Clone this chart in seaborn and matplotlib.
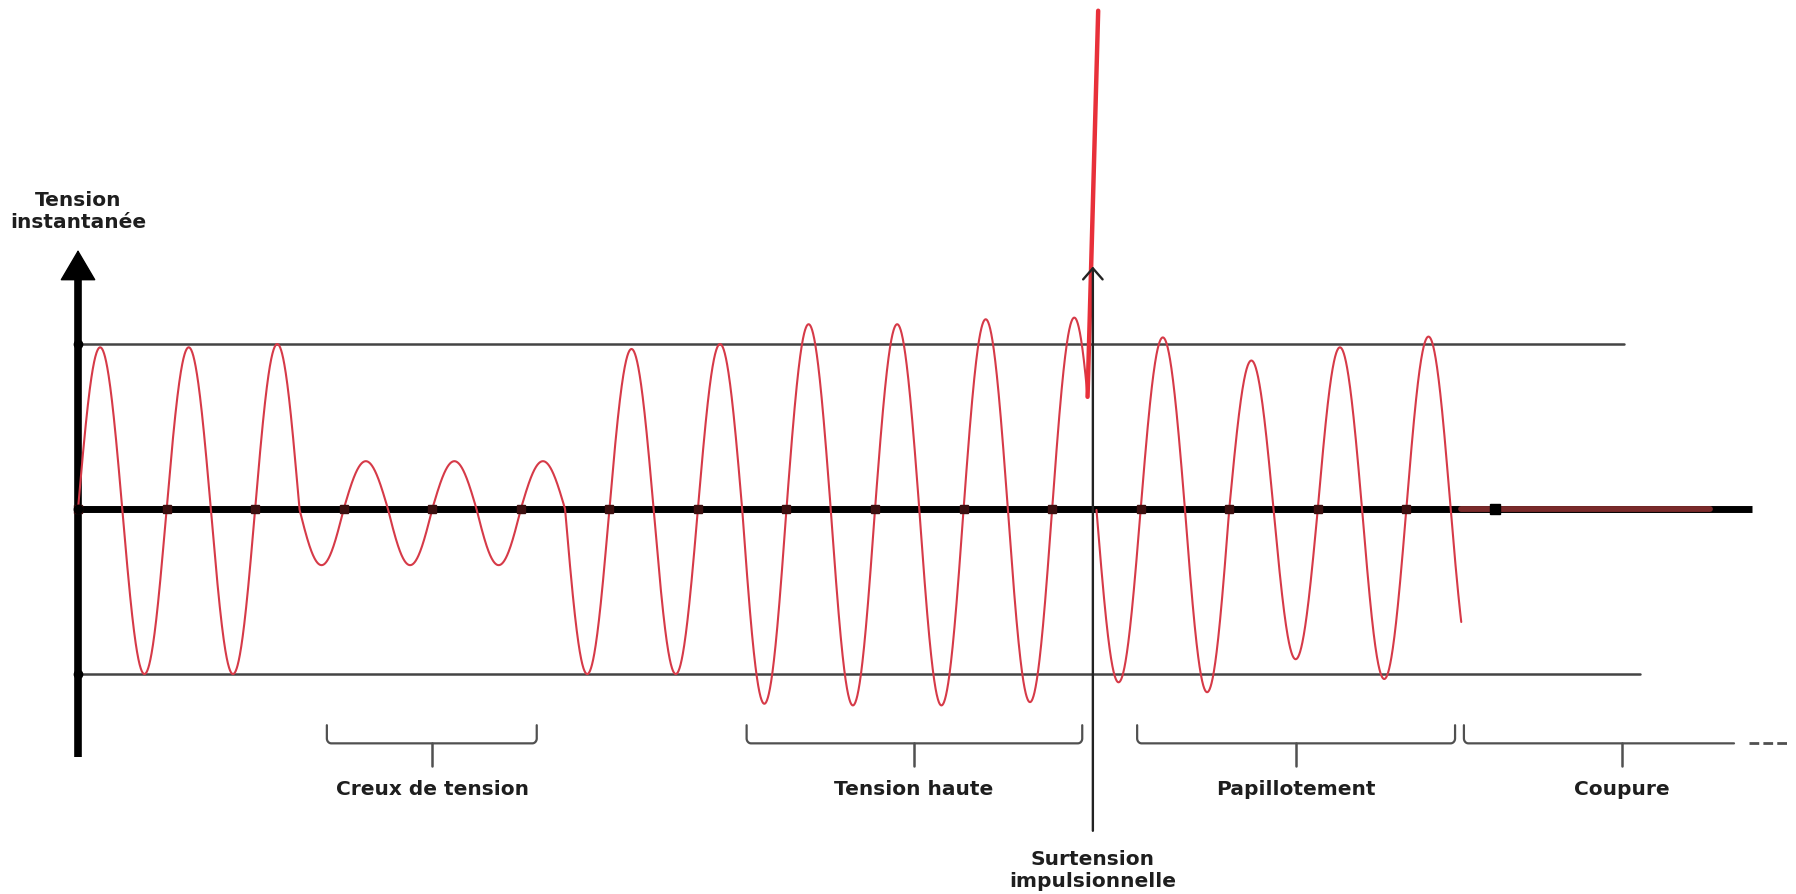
import numpy as np
import pandas as pd
import matplotlib
matplotlib.use("Agg")
import matplotlib.pyplot as plt
import seaborn as sns

# ---------------- data ----------------
# one entry per period of the signal (period index 0..15)
peak_amp = [0.98, 0.98, 1.00, 0.29, 0.29, 0.29, 0.97, 1.00,
            1.12, 1.12, 1.15, 1.16, 1.04, 0.90, 0.98, 1.045]
trough_amp = [1.00, 1.00, 0.34, 0.34, 0.34, 1.00, 1.00, 1.18,
              1.19, 1.19, 1.17, 1.05, 1.11, 0.91, 1.03, 1.00]
wave_end = 15.62            # signal is cut here (coupure)
impulse_gap = [11.40, 11.50]  # part of the wave replaced by the spike
spike_t = [11.40, 11.52]
spike_v = [0.68, 3.02]
coupure_t = [15.62, 18.43]
coupure_v = [0.0, 0.0]
tick_t = list(range(17))
ref_levels = [1.0, -1.0]
ref_ends = [17.46, 17.64]
impulse_t = 11.46

region_labels = ["Creux de tension", "Tension haute", "Papillotement", "Coupure"]
region_start = [2.81, 7.55, 11.96, 15.65]
region_end = [5.18, 11.34, 15.55, 18.70]
region_mid = [4.00, 9.44, 13.75, 17.43]
region_right_end = [True, True, True, False]

y_title = "Tension\ninstantanée"
impulse_label = "Surtension\nimpulsionnelle"

# ---------------- build the signal ----------------
t = np.linspace(0, wave_end, 6000)
k = np.minimum(np.floor(t).astype(int), len(peak_amp) - 1)
s = np.sin(2 * np.pi * t)
amp = np.where(s >= 0, np.array(peak_amp)[k], np.array(trough_amp)[k])
v = amp * s
seg = np.where(t <= impulse_gap[0], 0, np.where(t >= impulse_gap[1], 1, -1))
df = pd.DataFrame({"t": t, "v": v, "seg": seg})
df = df[df["seg"] >= 0]

# ---------------- figure ----------------
sns.set_theme(style="white")
plt.rcParams["font.family"] = ["DejaVu Sans"]

fig = plt.figure(figsize=(17.96, 8.94), dpi=100)
ax = fig.add_axes([0, 0, 1, 1])
ax.set_xlim(-0.881, 19.40)
ax.set_ylim(-2.333, 3.085)
ax.axis("off")

RED = "#d63a48"
GREY = "#444444"
TXT = "#1e1e1e"

# reference levels
for lvl, end in zip(ref_levels, ref_ends):
    ax.plot([0, end], [lvl, lvl], color=GREY, lw=1.8, zorder=1)

# time axis
ax.plot([0, 18.9], [0, 0], color="black", lw=5, solid_capstyle="butt", zorder=2)
# flat (cut) signal drawn over the axis
sns.lineplot(x=coupure_t, y=coupure_v, color="#7a2a2a", lw=4.2, ax=ax, zorder=3)

# vertical axis with arrow
ax.plot([0, 0], [-1.50, 1.45], color="black", lw=5.5, solid_capstyle="butt", zorder=2)
ax.annotate("", xy=(0, 1.57), xytext=(0, 1.35),
            arrowprops=dict(arrowstyle="-|>,head_length=0.85,head_width=0.5",
                            mutation_scale=24, lw=1, color="black",
                            shrinkA=0, shrinkB=0), zorder=3)

# signal
sns.lineplot(data=df, x="t", y="v", units="seg", estimator=None, sort=False,
             color=RED, lw=1.5, ax=ax, legend=False, zorder=4)
# impulse spike
sns.lineplot(x=spike_t, y=spike_v, sort=False, color="#e8303a", lw=3.2, ax=ax, zorder=4)

# tick markers
ax.plot(tick_t[:-1], [0] * (len(tick_t) - 1), ls="none", marker="s", ms=5.5,
        color="#3c1010", zorder=5)
ax.plot([tick_t[-1]], [0], ls="none", marker="s", ms=6.5, color="black", zorder=5)
ax.plot([0, 0, 0], [ref_levels[0], 0, ref_levels[1]], ls="none", marker="o", ms=6,
        color="black", zorder=5)

# impulse arrow
ax.annotate("", xy=(impulse_t, 1.47), xytext=(impulse_t, -1.95),
            arrowprops=dict(arrowstyle="->,head_length=0.4,head_width=0.35",
                            mutation_scale=20, lw=1.7, color="#222222",
                            shrinkA=0, shrinkB=0), zorder=5)

# braces
top, mid, bot = -1.31, -1.42, -1.56
rx, ry = 0.05, 0.03
def corner(cx, cy, a0, a1):
    a = np.linspace(a0, a1, 12)
    return cx + rx * np.cos(a), cy + ry * np.sin(a)

for lab, x0, x1, xm, has_r in zip(region_labels, region_start, region_end,
                                   region_mid, region_right_end):
    xs, ys = [x0], [top]
    cx, cy = corner(x0 + rx, mid + ry, np.pi, 1.5 * np.pi)
    xs += list(cx); ys += list(cy)
    if has_r:
        cx, cy = corner(x1 - rx, mid + ry, 1.5 * np.pi, 2 * np.pi)
        xs += list(cx); ys += list(cy)
        xs.append(x1); ys.append(top)
    else:
        xs.append(x1); ys.append(mid)
    ax.plot(xs, ys, color="#505050", lw=1.6, zorder=2)
    ax.plot([xm, xm], [mid, bot], color="#505050", lw=1.8, zorder=2)
    ax.text(xm, -1.70, lab, ha="center", va="center", fontsize=14.5,
            fontweight="bold", color=TXT)

ax.plot([18.87, 19.32], [mid, mid], color="#505050", lw=2,
        ls=(0, (3.5, 1.5)), zorder=2)

# texts
ax.text(0, 1.805, y_title, ha="center", va="center", fontsize=14.5,
        fontweight="bold", color=TXT, linespacing=1.2)
ax.text(impulse_t, -2.19, impulse_label, ha="center", va="center", fontsize=14.5,
        fontweight="bold", color=TXT, linespacing=1.2)

fig.savefig("out.png", dpi=100)
